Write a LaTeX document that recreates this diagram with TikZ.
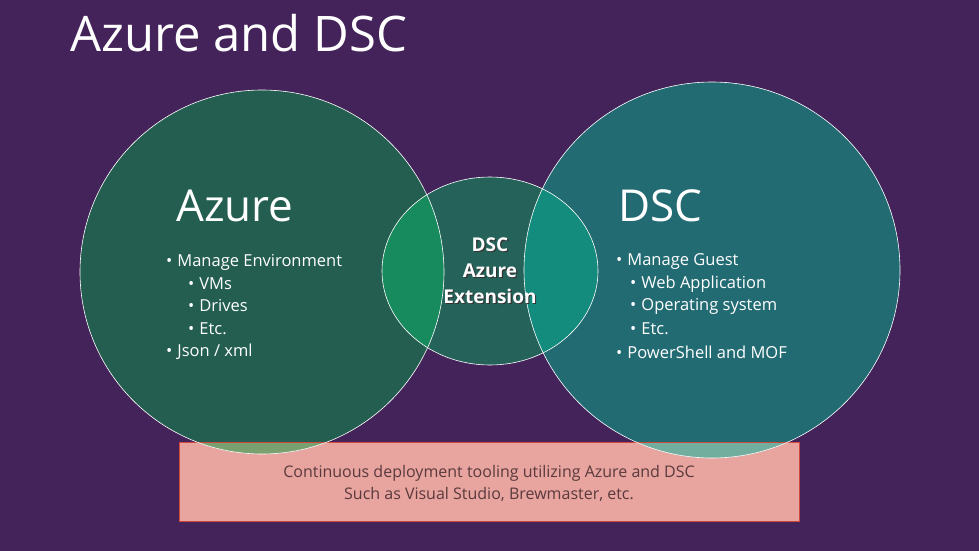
\documentclass[tikz,border=0pt]{standalone}
\usepackage{fontspec}
\setmainfont{Open Sans}
\definecolor{bg}{HTML}{44235A}
\definecolor{lc}{HTML}{235E50}
\definecolor{rc}{HTML}{226B73}
\definecolor{mc}{HTML}{24625A}
\definecolor{lm}{HTML}{178A5E}
\definecolor{rm}{HTML}{138C7E}
\definecolor{boxf}{HTML}{E8A49E}
\definecolor{boxd}{HTML}{D0483A}
\definecolor{lbox}{HTML}{7BA070}
\definecolor{rbox}{HTML}{72AE9E}
\definecolor{btxt}{HTML}{5A3A3E}
\begin{document}
\begin{tikzpicture}[x=1pt,y=-1pt,
  txt/.style={text=white,anchor=west,inner sep=0pt,font=\fontsize{16.5}{20}\selectfont},
  outl/.style={draw=white,line width=0.6pt},
  midt/.style={align=center,inner sep=0pt,font=\bfseries\fontsize{19}{26}\selectfont}]
\fill[bg] (0,0) rectangle (979,551);
\useasboundingbox (0,0) rectangle (979,551);
\node[text=white,anchor=base west,inner sep=0pt,font=\fontsize{49}{55}\selectfont] (title) at (70,52) {Azure and DSC};
\node[draw=boxd,fill=boxf,line width=0.8pt,minimum width=620pt,minimum height=79pt,inner sep=0pt] (box) at (489,481.5) {};
\fill[lc] (262,272) circle (182);
\fill[rc] (712,270) circle (188);
\fill[mc] (490,271) ellipse (108 and 94);
\begin{scope}\clip (262,272) circle (182); \fill[lm] (490,271) ellipse (108 and 94); \end{scope}
\begin{scope}\clip (712,270) circle (188); \fill[rm] (490,271) ellipse (108 and 94); \end{scope}
\begin{scope}\clip (179,442) rectangle (799,521); \fill[lbox] (262,272) circle (182); \fill[rbox] (712,270) circle (188); \end{scope}
\draw[boxd,line width=0.8pt] (179,442) rectangle (799,521);
\node[outl,circle,minimum size=364pt,inner sep=0pt] (azc) at (262,272) {};
\node[outl,circle,minimum size=376pt,inner sep=0pt] (dscc) at (712,270) {};
\draw[outl] (490,271) ellipse (108 and 94);
\node[text=btxt,align=center,inner sep=0pt,font=\fontsize{16}{22}\selectfont] (boxt) at (489,483) {Continuous deployment tooling utilizing Azure and DSC\\Such as Visual Studio, Brewmaster, etc.};
\node[midt,text=black!80] (mids) at (491.2,272.2) {DSC\\Azure\\Extension};
\node[midt,text=white] (mid) at (490,271) {DSC\\Azure\\Extension};
\node[text=white,anchor=base west,inner sep=0pt,font=\fontsize{44}{50}\selectfont] (azh) at (176,221) {Azure};
\node[txt] (a1) at (166,262) {\textbullet\hspace{5pt}Manage Environment};
\node[txt] (a2) at (188,284) {\textbullet\hspace{5pt}VMs};
\node[txt] (a3) at (188,306) {\textbullet\hspace{5pt}Drives};
\node[txt] (a4) at (188,329) {\textbullet\hspace{5pt}Etc.};
\node[txt] (a5) at (166,352) {\textbullet\hspace{5pt}Json / xml};
\node[text=white,anchor=base west,inner sep=0pt,font=\fontsize{44}{50}\selectfont] (dh) at (618,221) {DSC};
\node[txt] (d1) at (616,262) {\textbullet\hspace{5pt}Manage Guest};
\node[txt] (d2) at (630,284) {\textbullet\hspace{5pt}Web Application};
\node[txt] (d3) at (630,306) {\textbullet\hspace{5pt}Operating system};
\node[txt] (d4) at (630,329) {\textbullet\hspace{5pt}Etc.};
\node[txt] (d5) at (616,352) {\textbullet\hspace{5pt}PowerShell  and MOF};
\end{tikzpicture}
\end{document}
